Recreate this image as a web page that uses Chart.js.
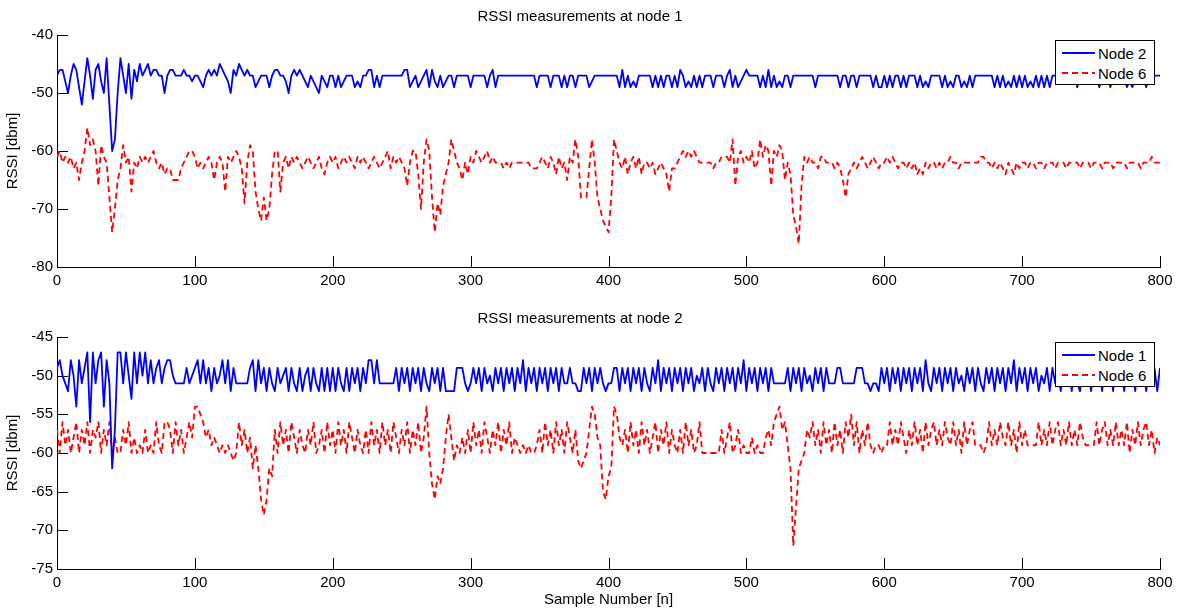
<!DOCTYPE html>
<html>
<head>
<meta charset="utf-8">
<title>RSSI measurements</title>
<script src="https://cdn.jsdelivr.net/npm/chart.js@4.4.1/dist/chart.umd.min.js"></script>
<style>
  body { margin: 0; background: #fff; width: 1183px; height: 609px; overflow: hidden;
         font-family: "Liberation Sans", Arial, sans-serif; }
  .panel { position: absolute; left: 0; }
  .legend { position: absolute; left: 1055px; width: 98px; height: 43px; border: 1px solid #000;
            background: #fff; font-size: 15px; color: #000; }
  .legend .row { position: absolute; left: 6px; height: 20px; display: flex; align-items: center; }
  .legend .swatch { width: 33px; height: 2px; margin-right: 3px; }
  .legend .solid { background: #0000ff; }
  .legend .dash { background: repeating-linear-gradient(90deg, #ff0000 0 6px, transparent 6px 10px); }
</style>
</head>
<body>

<div class="panel" style="top:0"><canvas id="chartNode1" width="1183" height="300"></canvas></div>
<div class="panel" style="top:300px"><canvas id="chartNode2" width="1183" height="309"></canvas></div>

<div class="legend" style="top:40px">
  <div class="row" style="top:2px"><span class="swatch solid"></span>Node 2</div>
  <div class="row" style="top:22px"><span class="swatch dash"></span>Node 6</div>
</div>
<div class="legend" style="top:342px">
  <div class="row" style="top:2px"><span class="swatch solid"></span>Node 1</div>
  <div class="row" style="top:22px"><span class="swatch dash"></span>Node 6</div>
</div>

<script>
// RSSI traces, one value every SAMPLE_STEP samples (n = 0..800)
const SAMPLE_STEP = 2;

// --- measurements at node 1 ---
const atNode1FromNode2 = [
  -47,-46,-46,-48,-50,-47,-45,-46,-49,-52,-48,-44,-47,-51,-46,-45,-48,-50,-44,-52,
  -60,-58,-50,-44,-47,-50,-45,-51,-46,-48,-45,-47,-46,-45,-47,-46,-46,-47,-47,-50,
  -47,-46,-46,-47,-47,-47,-46,-47,-47,-48,-47,-47,-48,-49,-47,-46,-47,-46,-47,-45,
  -46,-47,-48,-50,-46,-47,-45,-46,-47,-46,-47,-47,-49,-48,-47,-47,-47,-49,-47,-46,
  -46,-47,-47,-48,-50,-47,-46,-47,-46,-47,-48,-49,-47,-48,-49,-50,-47,-48,-49,-47,
  -47,-49,-47,-49,-48,-47,-47,-47,-49,-48,-49,-47,-47,-46,-46,-49,-47,-49,-47,-47,
  -47,-47,-47,-47,-47,-47,-46,-46,-49,-48,-47,-49,-48,-47,-46,-49,-46,-48,-49,-47,
  -49,-48,-47,-47,-49,-47,-47,-47,-47,-47,-49,-47,-47,-47,-47,-47,-49,-47,-46,-49,
  -47,-47,-47,-47,-47,-47,-47,-47,-47,-47,-47,-47,-47,-47,-49,-47,-47,-47,-47,-49,
  -47,-47,-47,-49,-47,-49,-47,-47,-49,-47,-47,-47,-47,-49,-48,-47,-47,-47,-47,-47,
  -47,-47,-47,-47,-49,-46,-49,-47,-49,-48,-49,-47,-47,-47,-47,-47,-49,-47,-49,-47,
  -49,-47,-47,-49,-47,-49,-46,-47,-49,-48,-49,-47,-49,-47,-49,-47,-47,-47,-49,-47,
  -47,-47,-49,-47,-46,-49,-47,-49,-48,-47,-46,-47,-47,-47,-47,-49,-47,-49,-46,-49,
  -47,-49,-48,-49,-47,-47,-49,-47,-47,-47,-47,-47,-47,-47,-47,-49,-47,-47,-47,-47,
  -47,-47,-47,-47,-49,-47,-47,-49,-47,-47,-49,-47,-47,-47,-47,-47,-49,-47,-49,-49,
  -47,-49,-47,-49,-47,-47,-49,-47,-49,-47,-47,-47,-49,-47,-49,-48,-49,-47,-47,-47,
  -47,-49,-47,-49,-48,-49,-47,-47,-49,-48,-49,-47,-49,-47,-47,-47,-47,-47,-47,-47,
  -49,-47,-49,-47,-49,-48,-49,-47,-49,-47,-49,-47,-49,-48,-49,-47,-49,-47,-49,-47,
  -49,-47,-47,-47,-47,-47,-47,-47,-47,-47,-49,-47,-47,-47,-47,-47,-47,-47,-49,-47,
  -47,-47,-49,-47,-47,-47,-47,-47,-49,-48,-49,-47,-47,-47,-47,-49,-47,-47,-47,-47,
  -47
];

const atNode1FromNode6 = [
  -61,-60,-62,-61,-62,-61,-63,-62,-65,-62,-60,-56,-59,-58,-60,-66,-59,-61,-62,-68,
  -74,-70,-65,-63,-59,-62,-61,-67,-62,-63,-61,-62,-61,-62,-61,-60,-62,-63,-62,-64,
  -63,-63,-65,-65,-65,-63,-62,-61,-60,-60,-61,-63,-62,-63,-62,-61,-62,-65,-62,-61,
  -62,-67,-61,-62,-61,-60,-61,-63,-69,-62,-59,-60,-67,-70,-72,-68,-72,-70,-64,-60,
  -60,-67,-62,-61,-63,-61,-62,-61,-62,-63,-62,-61,-62,-63,-62,-61,-63,-64,-62,-61,
  -62,-61,-63,-62,-61,-62,-61,-62,-63,-61,-62,-61,-62,-63,-62,-61,-62,-63,-62,-61,
  -60,-63,-61,-62,-61,-62,-63,-66,-62,-60,-60,-64,-70,-62,-58,-60,-68,-74,-69,-71,
  -66,-64,-62,-58,-60,-62,-63,-65,-62,-64,-61,-62,-60,-61,-62,-61,-60,-62,-61,-62,
  -62,-62,-63,-62,-63,-62,-62,-62,-62,-62,-62,-62,-63,-63,-63,-62,-61,-62,-63,-61,
  -62,-64,-61,-63,-62,-65,-61,-62,-58,-61,-68,-68,-68,-63,-58,-62,-68,-70,-72,-73,
  -74,-68,-58,-60,-62,-63,-61,-64,-62,-61,-63,-61,-64,-62,-62,-63,-62,-64,-63,-62,
  -63,-64,-67,-63,-63,-62,-61,-60,-61,-60,-61,-60,-61,-62,-62,-62,-62,-62,-63,-62,
  -62,-61,-61,-61,-62,-58,-66,-61,-60,-62,-61,-62,-60,-63,-62,-58,-61,-59,-60,-66,
  -60,-61,-59,-60,-65,-62,-64,-71,-73,-76,-66,-61,-62,-61,-62,-62,-63,-61,-61,-62,
  -62,-62,-63,-62,-63,-65,-68,-64,-63,-62,-63,-62,-61,-62,-63,-62,-61,-62,-63,-62,
  -62,-61,-62,-61,-62,-63,-62,-62,-63,-62,-63,-62,-64,-63,-64,-62,-63,-62,-62,-63,
  -62,-63,-62,-62,-61,-62,-62,-63,-62,-62,-62,-62,-62,-62,-62,-61,-61,-62,-62,-63,
  -62,-63,-62,-63,-64,-62,-63,-64,-62,-63,-62,-62,-63,-62,-62,-63,-62,-62,-63,-62,
  -62,-62,-63,-62,-62,-62,-63,-62,-62,-62,-62,-63,-62,-62,-62,-63,-62,-62,-62,-63,
  -62,-62,-62,-63,-62,-62,-62,-62,-63,-62,-62,-62,-62,-63,-62,-62,-62,-61,-62,-62,
  -62
];

// --- measurements at node 2 ---
const atNode2FromNode1 = [
  -49,-48,-50,-51,-52,-48,-50,-54,-48,-51,-49,-47,-56,-47,-51,-48,-47,-54,-48,-51,
  -62,-57,-47,-47,-51,-47,-50,-53,-47,-51,-47,-50,-47,-51,-48,-51,-49,-48,-51,-49,
  -48,-48,-50,-51,-51,-51,-51,-49,-51,-50,-49,-48,-51,-48,-51,-49,-52,-49,-51,-50,
  -48,-51,-48,-52,-49,-51,-51,-51,-51,-51,-49,-48,-52,-48,-51,-49,-52,-49,-51,-52,
  -49,-51,-50,-49,-52,-49,-51,-52,-49,-52,-50,-49,-52,-49,-51,-52,-49,-52,-49,-52,
  -49,-52,-49,-51,-52,-49,-52,-49,-51,-49,-52,-49,-51,-48,-48,-51,-48,-51,-51,-51,
  -51,-51,-51,-49,-52,-49,-51,-49,-52,-49,-51,-49,-52,-49,-51,-52,-49,-51,-49,-52,
  -49,-52,-52,-52,-52,-49,-49,-49,-51,-52,-51,-49,-51,-49,-52,-49,-51,-50,-52,-49,
  -51,-49,-52,-49,-51,-49,-52,-49,-51,-48,-52,-49,-51,-49,-52,-49,-51,-49,-52,-49,
  -51,-49,-52,-49,-51,-51,-49,-51,-51,-52,-52,-49,-51,-49,-52,-49,-51,-49,-51,-52,
  -51,-51,-49,-49,-52,-49,-51,-49,-52,-49,-51,-49,-52,-49,-51,-52,-49,-51,-48,-52,
  -49,-51,-49,-52,-49,-51,-49,-52,-49,-51,-49,-52,-50,-51,-49,-52,-49,-51,-52,-49,
  -51,-49,-52,-49,-51,-49,-52,-49,-51,-48,-52,-49,-51,-49,-52,-49,-51,-49,-52,-49,
  -51,-51,-51,-51,-51,-49,-52,-49,-51,-49,-52,-49,-51,-50,-52,-49,-51,-49,-52,-49,
  -51,-51,-51,-49,-49,-51,-51,-51,-51,-51,-49,-49,-49,-51,-51,-52,-51,-51,-52,-49,
  -51,-49,-52,-49,-51,-49,-52,-49,-51,-49,-52,-49,-51,-49,-52,-48,-51,-52,-49,-51,
  -49,-52,-49,-51,-49,-52,-49,-51,-50,-52,-49,-51,-49,-52,-49,-51,-52,-49,-51,-49,
  -52,-49,-51,-49,-52,-49,-51,-48,-52,-49,-51,-49,-52,-49,-51,-49,-52,-50,-51,-49,
  -52,-49,-51,-49,-52,-49,-51,-49,-52,-49,-51,-52,-49,-51,-49,-52,-49,-51,-49,-52,
  -49,-51,-49,-52,-48,-51,-49,-52,-49,-51,-49,-52,-49,-51,-49,-52,-49,-51,-49,-52,
  -49
];

const atNode2FromNode6 = [
  -57,-60,-56,-59,-57,-60,-58,-56,-60,-57,-59,-56,-60,-57,-58,-56,-60,-57,-59,-56,
  -60,-58,-60,-60,-57,-59,-56,-60,-58,-60,-59,-60,-57,-60,-59,-60,-56,-59,-60,-56,
  -56,-57,-60,-56,-59,-57,-60,-58,-56,-58,-54,-54,-55,-56,-58,-57,-59,-58,-59,-60,
  -59,-60,-59,-60,-61,-60,-56,-59,-57,-60,-58,-62,-59,-62,-66,-68,-66,-62,-63,-57,
  -60,-56,-59,-57,-60,-56,-58,-60,-57,-59,-60,-57,-59,-56,-60,-59,-57,-60,-56,-59,
  -57,-60,-56,-59,-57,-60,-56,-58,-60,-57,-59,-60,-57,-60,-56,-59,-57,-60,-56,-59,
  -57,-60,-56,-58,-60,-57,-59,-56,-60,-57,-59,-56,-60,-58,-54,-60,-64,-66,-63,-64,
  -62,-58,-55,-58,-61,-59,-60,-58,-60,-57,-60,-56,-59,-57,-60,-56,-58,-60,-57,-59,
  -56,-60,-57,-59,-56,-60,-58,-59,-60,-59,-60,-59,-60,-60,-59,-57,-60,-56,-59,-57,
  -60,-56,-59,-57,-60,-56,-58,-60,-57,-61,-62,-61,-60,-57,-54,-55,-58,-59,-65,-66,
  -63,-62,-54,-55,-58,-59,-57,-60,-56,-59,-57,-60,-56,-59,-57,-60,-58,-56,-60,-57,
  -59,-56,-60,-57,-59,-60,-57,-60,-56,-59,-57,-60,-59,-56,-60,-60,-60,-60,-60,-60,
  -60,-57,-60,-58,-56,-60,-59,-57,-60,-59,-60,-60,-58,-60,-59,-60,-60,-58,-57,-59,
  -56,-55,-54,-57,-56,-59,-62,-72,-67,-62,-61,-60,-57,-58,-56,-59,-57,-60,-56,-59,
  -57,-60,-56,-59,-57,-60,-56,-58,-55,-59,-56,-60,-57,-59,-56,-59,-60,-59,-59,-60,
  -59,-59,-56,-59,-57,-59,-56,-58,-60,-57,-59,-56,-59,-57,-60,-56,-59,-57,-56,-59,
  -57,-59,-56,-58,-59,-56,-59,-57,-60,-56,-59,-57,-56,-59,-59,-59,-60,-59,-56,-59,
  -57,-59,-56,-58,-59,-56,-59,-57,-60,-56,-59,-57,-59,-59,-59,-59,-56,-59,-57,-59,
  -56,-59,-57,-56,-59,-57,-59,-56,-59,-57,-59,-56,-58,-59,-59,-59,-59,-56,-59,-57,
  -56,-59,-57,-59,-56,-59,-57,-59,-56,-60,-57,-59,-56,-59,-57,-56,-59,-57,-60,-58,
  -59
];

const FONT = 'Liberation Sans, Arial, sans-serif';
const TICK_LEN = 11;
Chart.defaults.font.family = FONT;
Chart.defaults.color = '#000';

function toPoints(values) {
  return values.map((v, i) => ({ x: i * SAMPLE_STEP, y: v }));
}

// MATLAB-style tick marks pointing into the plot area
const innerTicks = {
  id: 'innerTicks',
  beforeDatasetsDraw(chart) {
    const { ctx, chartArea, scales } = chart;
    ctx.save();
    ctx.strokeStyle = '#000';
    ctx.lineWidth = 1;
    ctx.beginPath();
    scales.x.ticks.forEach(t => {
      const px = Math.round(scales.x.getPixelForValue(t.value)) + 0.5;
      ctx.moveTo(px, chartArea.bottom);
      ctx.lineTo(px, chartArea.bottom - TICK_LEN);
    });
    scales.y.ticks.forEach(t => {
      const py = Math.round(scales.y.getPixelForValue(t.value)) + 0.5;
      ctx.moveTo(chartArea.left, py);
      ctx.lineTo(chartArea.left + TICK_LEN, py);
    });
    ctx.stroke();
    ctx.restore();
  }
};

function makePanel(canvasId, cfg) {
  const axisFont = { size: 15, family: FONT };
  return new Chart(document.getElementById(canvasId), {
    type: 'line',
    data: {
      datasets: [
        {
          label: cfg.labels[0],
          data: toPoints(cfg.solid),
          borderColor: '#0000ff',
          borderWidth: 1.8,
          borderJoinStyle: 'round',
          pointRadius: 0,
          tension: 0
        },
        {
          label: cfg.labels[1],
          data: toPoints(cfg.dashed),
          borderColor: '#ff0000',
          borderWidth: 1.8,
          borderDash: [6, 4],
          borderJoinStyle: 'round',
          pointRadius: 0,
          tension: 0
        }
      ]
    },
    plugins: [innerTicks],
    options: {
      responsive: false,
      animation: false,
      events: [],
      layout: { padding: { left: 0, right: 23, top: 0, bottom: 0 } },
      plugins: {
        legend: { display: false },
        tooltip: { enabled: false },
        title: {
          display: true,
          text: cfg.title,
          color: '#000',
          font: { size: 15, weight: 'normal', family: FONT, lineHeight: 1.2 },
          padding: cfg.titlePad
        }
      },
      scales: {
        x: {
          type: 'linear',
          min: 0,
          max: 800,
          ticks: { stepSize: 100, color: '#000', font: axisFont, padding: 5, maxRotation: 0, autoSkip: false },
          grid: { drawOnChartArea: false, drawTicks: false },
          border: { display: true, color: '#000', width: 1 },
          title: {
            display: !!cfg.xTitle,
            text: cfg.xTitle || '',
            color: '#000',
            font: { size: 15, family: FONT, lineHeight: 1.2 },
            padding: { top: 0, bottom: 0 }
          },
          afterFit: (s) => { s.height = cfg.xAxisHeight; }
        },
        y: {
          min: cfg.yMin,
          max: cfg.yMax,
          ticks: { stepSize: cfg.yStep, color: '#000', font: axisFont, padding: 4 },
          grid: { drawOnChartArea: false, drawTicks: false },
          border: { display: true, color: '#000', width: 1 },
          title: {
            display: true,
            text: 'RSSI [dbm]',
            color: '#000',
            font: { size: 15, family: FONT, lineHeight: 1.2 },
            padding: { top: 4, bottom: 0 }
          },
          afterFit: (s) => { s.width = 57; }
        }
      }
    }
  });
}

makePanel('chartNode1', {
  title: 'RSSI measurements at node 1',
  titlePad: { top: 8, bottom: 9 },
  labels: ['Node 2', 'Node 6'],
  solid: atNode1FromNode2,
  dashed: atNode1FromNode6,
  yMin: -80, yMax: -40, yStep: 10,
  xAxisHeight: 33
});

makePanel('chartNode2', {
  title: 'RSSI measurements at node 2',
  titlePad: { top: 10, bottom: 9 },
  labels: ['Node 1', 'Node 6'],
  solid: atNode2FromNode1,
  dashed: atNode2FromNode6,
  yMin: -75, yMax: -45, yStep: 5,
  xTitle: 'Sample Number [n]',
  xAxisHeight: 40
});
</script>
</body>
</html>
